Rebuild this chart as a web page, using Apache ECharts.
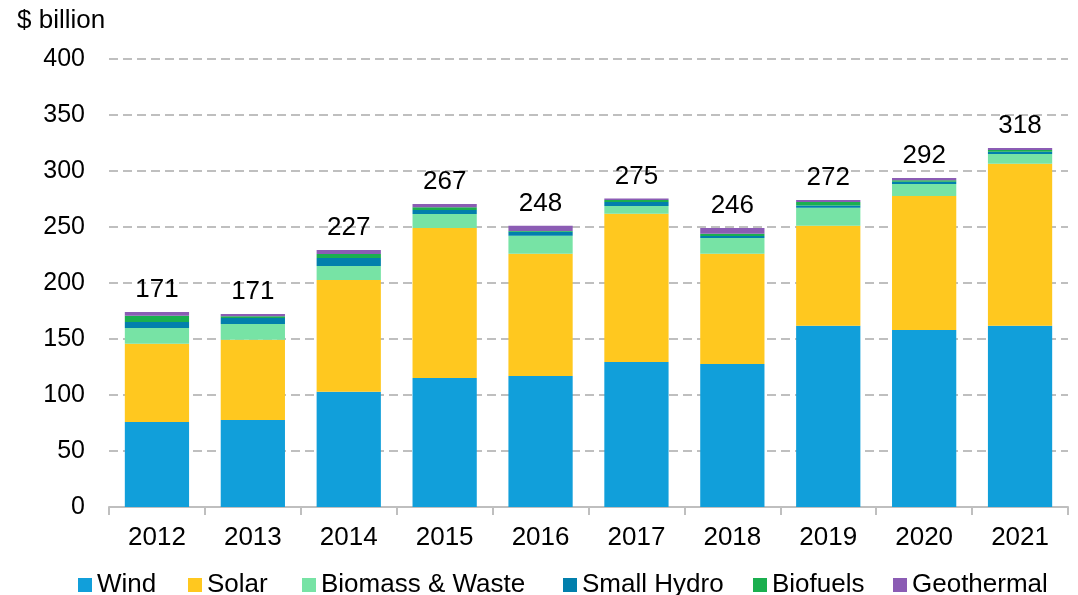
<!DOCTYPE html>
<html>
<head>
<meta charset="utf-8">
<script src="https://cdn.jsdelivr.net/npm/echarts@6/dist/echarts.min.js"></script>
<style>html,body{margin:0;padding:0;background:#fff;}#c{width:1078px;height:595px;}</style>
</head>
<body>
<div id="c"></div>
<script>
const years = ['2012','2013','2014','2015','2016','2017','2018','2019','2020','2021'];
const wind = [75.9, 77.7, 102.9, 115.2, 117, 129.5, 127.7, 161.9, 158, 161.9];
const solar = [69.9, 71.7, 99.8, 133.9, 109.2, 132.4, 98.5, 89.3, 119.7, 144.6];
const biomass = [14, 14, 12.5, 12.5, 16, 6.9, 14, 16, 10.7, 8.7];
const smallHydro = [5.4, 5.4, 7.1, 3.6, 3.6, 3.6, 1.8, 2.1, 2.1, 2];
const biofuels = [5.6, 1.5, 3.6, 2.4, 0.6, 1.8, 2, 3, 1.2, 1.5];
const geothermal = [3.3, 2, 3.6, 3, 4.8, 1.3, 5.1, 1.7, 2, 1.8];
const totals = [171, 171, 227, 267, 248, 275, 246, 272, 292, 318];
const yTicks = [0, 50, 100, 150, 200, 250, 300, 350, 400];

const FONT = 'Liberation Sans, Arial, sans-serif';
const seriesDefs = [
  ['Wind', wind, '#119FDA'],
  ['Solar', solar, '#FFC81F'],
  ['Biomass & Waste', biomass, '#77E3A5'],
  ['Small Hydro', smallHydro, '#027FAC'],
  ['Biofuels', biofuels, '#1BAF4F'],
  ['Geothermal', geothermal, '#8B5CB4']
];
const legendLeft = [78, 188, 302, 563, 753, 893];

const series = seriesDefs.map(([name, data, color], i) => {
  const s = {
    name, type: 'bar', stack: 'total', data,
    barCategoryGap: '33%',
    itemStyle: { color },
    emphasis: { disabled: true }
  };
  if (i === seriesDefs.length - 1) {
    s.label = {
      show: true, position: 'top', distance: 9,
      fontSize: 26, color: '#000', fontFamily: FONT,
      formatter: p => String(totals[p.dataIndex])
    };
  }
  return s;
});

const legends = seriesDefs.map((d, i) => ({
  left: legendLeft[i], top: 572, padding: 0,
  itemWidth: 14, itemHeight: 14, icon: 'rect',
  selectedMode: false,
  textStyle: { fontSize: 26, color: '#000', fontFamily: FONT },
  data: [d[0]]
}));

const chart = echarts.init(document.getElementById('c'));
chart.setOption({
  animation: false,
  title: {
    text: '$ billion', left: 12, top: 3,
    textStyle: { fontSize: 26, fontWeight: 'normal', color: '#000', fontFamily: FONT }
  },
  grid: { left: 109, right: 10, top: 59, bottom: 88, containLabel: false },
  legend: legends,
  xAxis: {
    type: 'category', data: years,
    axisLine: { lineStyle: { color: '#BFBFBF', width: 2 } },
    axisTick: { show: true, length: 8, lineStyle: { color: '#BFBFBF', width: 2 } },
    axisLabel: { fontSize: 26, color: '#000', fontFamily: FONT, margin: 18 }
  },
  yAxis: {
    type: 'value', min: yTicks[0], max: yTicks[yTicks.length - 1], interval: 50,
    axisLine: { show: false }, axisTick: { show: false },
    axisLabel: { fontSize: 25, color: '#000', fontFamily: FONT, margin: 24 },
    splitLine: { lineStyle: { color: '#BFBFBF', width: 2, type: [9, 5] } }
  },
  series
});
</script>
</body>
</html>
